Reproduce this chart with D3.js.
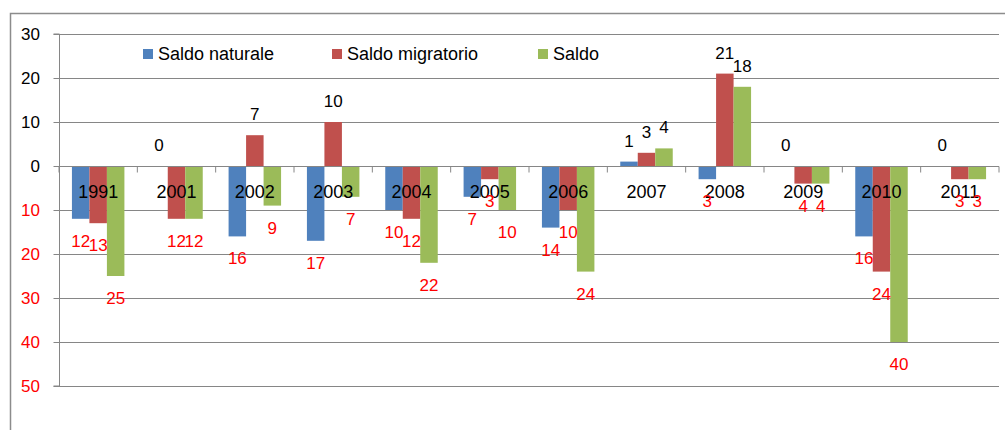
<!DOCTYPE html>
<html>
<head>
<meta charset="utf-8">
<script src="https://cdn.jsdelivr.net/npm/d3@7"></script>
<style>
  html, body { margin: 0; padding: 0; background: #fff; }
  svg { display: block; font-family: 'Liberation Sans', Arial, sans-serif; }
</style>
</head>
<body>
<svg id="chart" width="1005" height="430"></svg>
<script>
(function () {
    // Anni
    const years = ['1991', '2001', '2002', '2003', '2004', '2005', '2006', '2007', '2008', '2009', '2010', '2011'];

    const seriesNames = ['Saldo naturale', 'Saldo migratorio', 'Saldo'];
    const seriesColors = ['#4F81BD', '#C0504D', '#9BBB59'];

    const saldoNaturale   = [-12, 0, -16, -17, -10, -7, -14, 1, -3, 0, -16, 0];
    const saldoMigratorio = [-13, -12, 7, 10, -12, -3, -10, 3, 21, -4, -24, -3];
    const saldo           = [-25, -12, -9, -7, -22, -10, -24, 4, 18, -4, -40, -3];

    const yTicks = [30, 20, 10, 0, -10, -20, -30, -40, -50];

    const values = [saldoNaturale, saldoMigratorio, saldo];

    const svg = d3.select('#chart');
    const left = 59, right = 999, top = 34, bottom = 386;

    // Outer border of the chart area
    svg.append('path')
        .attr('d', 'M10.5,430 L10.5,13.5 L1005,13.5')
        .attr('fill', 'none')
        .attr('stroke', '#8c8c8c')
        .attr('stroke-width', 1.5);

    const x0 = d3.scaleBand().domain(years).range([left, right]).padding(0);
    const bw = x0.bandwidth();
    const gap = bw * 0.33;
    const x1 = d3.scaleBand().domain(d3.range(3)).range([gap / 2, bw - gap / 2]).padding(0);

    const y = d3.scaleLinear().domain([-50, 30]).range([bottom, top]);

    // Gridlines
    svg.append('g')
        .selectAll('line')
        .data(yTicks.filter(d => d !== 0))
        .join('line')
        .attr('x1', left).attr('x2', right)
        .attr('y1', d => Math.round(y(d)) + 0.5)
        .attr('y2', d => Math.round(y(d)) + 0.5)
        .attr('stroke', '#868686')
        .attr('stroke-width', 1);

    // Bars
    const groups = svg.append('g')
        .selectAll('g')
        .data(years)
        .join('g')
        .attr('transform', d => `translate(${x0(d)},0)`);

    groups.selectAll('rect')
        .data((d, i) => values.map((s, k) => ({ k: k, v: s[i] })))
        .join('rect')
        .attr('x', d => x1(d.k))
        .attr('width', x1.bandwidth())
        .attr('y', d => y(Math.max(0, d.v)))
        .attr('height', d => Math.abs(y(d.v) - y(0)))
        .attr('fill', d => seriesColors[d.k]);

    // Y axis (ticks from d3, labels drawn below so negatives can be red)
    const yAxis = d3.axisLeft(y)
        .tickValues(yTicks)
        .tickSize(6)
        .tickFormat('');

    const ya = svg.append('g')
        .attr('transform', `translate(${left + 0.5},0)`)
        .call(yAxis);
    ya.select('.domain').attr('stroke', '#868686').attr('d', `M-6,${y(30)}H0V${y(-50)}H-6`);
    ya.selectAll('.tick line').attr('stroke', '#868686');

    svg.append('g')
        .selectAll('text')
        .data(yTicks)
        .join('text')
        .attr('x', left - 19)
        .attr('y', d => y(d))
        .attr('dy', '0.35em')
        .attr('text-anchor', 'end')
        .attr('font-size', 17)
        .attr('fill', d => d < 0 ? '#FF0000' : '#000000')
        .text(d => Math.abs(d));

    // Zero axis with category tick marks
    const xa = svg.append('g')
        .attr('transform', `translate(0,${Math.round(y(0)) + 0.5})`);
    xa.append('line')
        .attr('x1', left).attr('x2', right)
        .attr('stroke', '#868686');
    xa.selectAll('.ct')
        .data(years.map(d => x0(d)).concat([right]))
        .join('line')
        .attr('class', 'ct')
        .attr('x1', d => d).attr('x2', d => d)
        .attr('y1', 0).attr('y2', 6)
        .attr('stroke', '#868686');

    // Category labels (drawn over bars)
    svg.append('g')
        .selectAll('text')
        .data(years)
        .join('text')
        .attr('x', d => x0(d) + bw / 2)
        .attr('y', y(0) + 26)
        .attr('dy', '0.35em')
        .attr('text-anchor', 'middle')
        .attr('font-size', 18)
        .attr('fill', '#000')
        .text(d => d);

    // Data labels
    const labels = [];
    years.forEach((yr, i) => {
        values.forEach((s, k) => {
            const v = s[i];
            // zero values shown only once per category (first series)
            if (v === 0 && k !== 0) return;
            labels.push({ yr: yr, k: k, v: v });
        });
    });

    svg.append('g')
        .selectAll('text')
        .data(labels)
        .join('text')
        .attr('x', d => x0(d.yr) + x1(d.k) + x1.bandwidth() / 2)
        .attr('y', d => d.v >= 0 ? y(d.v) - 21 : y(d.v) + 22)
        .attr('dy', '0.35em')
        .attr('text-anchor', 'middle')
        .attr('font-size', 17)
        .attr('fill', d => d.v >= 0 ? '#000' : '#FF0000')
        .text(d => Math.abs(d.v));

    // Legend
    const legendX = [143, 332, 538];
    const leg = svg.append('g')
        .selectAll('g')
        .data(seriesNames)
        .join('g')
        .attr('transform', (d, i) => `translate(${legendX[i]},49)`);
    leg.append('rect')
        .attr('width', 10).attr('height', 10)
        .attr('fill', (d, i) => seriesColors[i]);
    leg.append('text')
        .attr('x', 15)
        .attr('y', 5)
        .attr('dy', '0.35em')
        .attr('font-size', 18)
        .attr('fill', '#000')
        .text(d => d);
})();
</script>
</body>
</html>
